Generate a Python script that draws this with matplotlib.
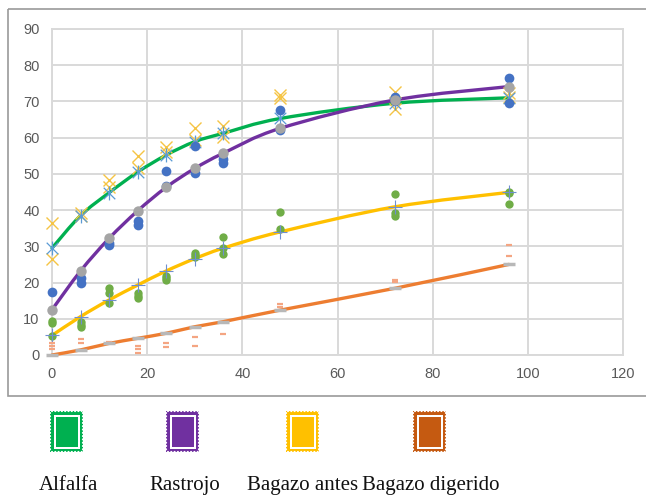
import numpy as np
import matplotlib
matplotlib.use("Agg")
import matplotlib.pyplot as plt
from matplotlib.path import Path
from matplotlib.patches import PathPatch, Rectangle, Circle

# sampling times (h)
times = [0, 6, 12, 18, 24, 30, 36, 48, 72, 96]

# fitted curves, read at each time
fit_alfalfa = [29.5, 38.5, 44.8, 50.5, 55.2, 58.9, 61.2, 65.3, 69.5, 71.0]
fit_rastrojo = [12.5, 23.2, 32.2, 39.8, 46.3, 51.5, 55.7, 62.6, 70.4, 74.1]
fit_antes = [5.4, 10.6, 15.2, 19.3, 23.2, 26.6, 29.5, 34.0, 40.9, 44.9]
fit_digerido = [0.0, 1.4, 3.2, 4.6, 6.0, 7.8, 9.2, 12.4, 18.4, 25.0]

# replicates
rep_alfalfa_t = [0, 0, 6, 6, 12, 12, 18, 18, 24, 24, 30, 30, 36, 36, 48, 48, 72, 72, 96, 96]
rep_alfalfa = [36.4, 26.5, 39.2, 38.3, 48.3, 46.5, 55.0, 51.6, 57.5, 56.1,
               62.7, 59.4, 63.3, 60.3, 71.8, 70.9, 72.7, 67.8, 72.2, 71.3]

rep_rastrojo_t = [0, 6, 6, 12, 12, 18, 18, 24, 24, 30, 30, 36, 36, 48, 48, 72, 72, 96, 96]
rep_rastrojo = [17.5, 21.2, 19.9, 30.4, 30.8, 37.0, 35.9, 50.8, 46.6, 57.7, 50.3,
                54.1, 52.9, 67.6, 62.0, 71.3, 70.0, 76.4, 69.5]

rep_antes_t = [0, 0, 0, 6, 6, 6, 12, 12, 12, 18, 18, 18, 24, 24, 24, 30, 30, 30,
               36, 36, 36, 48, 48, 72, 72, 72, 96, 96, 96]
rep_antes = [9.5, 8.9, 5.2, 9.2, 8.4, 7.8, 18.4, 17.0, 14.3, 17.0, 15.8, 16.4,
             21.9, 20.7, 21.3, 28.1, 27.0, 27.6, 32.7, 29.5, 27.9, 39.4, 34.7,
             44.4, 39.1, 38.4, 45.1, 44.6, 41.7]

rep_digerido_t = [0, 0, 0, 6, 6, 12, 18, 18, 18, 24, 24, 30, 30, 36, 48, 48, 72, 72, 96, 96]
rep_digerido = [3.4, 2.5, 1.6, 4.3, 3.4, 3.7, 2.6, 1.6, 0.6, 3.2, 2.3, 4.9, 2.6,
                5.8, 14.1, 13.3, 20.7, 20.1, 30.4, 27.4]

legend_names = ["Alfalfa", "Rastrojo", "Bagazo antes", "Bagazo digerido"]
legend_colors = ["#00b050", "#7030a0", "#ffc000", "#c55a11"]

W, H = 646, 497
fig = plt.figure(figsize=(W / 100, H / 100), dpi=100)

# overlay in pixel coordinates for the frame and the legend
ov = fig.add_axes([0, 0, 1, 1], zorder=0)
ov.set_xlim(0, W)
ov.set_ylim(H, 0)
ov.axis("off")
ov.add_patch(Rectangle((8, 9), 660, 387, fill=False, ec="#9a9a9a", lw=1.2))

ax = fig.add_axes([52 / W, 1 - 355 / H, (623 - 52) / W, (355 - 29) / H], zorder=1)
ax.patch.set_alpha(0)


def smooth_line(ax, xs, ys, color):
    # Excel-like smoothed line: Catmull-Rom segments as cubic Beziers
    xs = np.asarray(xs, float)
    ys = np.asarray(ys, float)
    pts = np.column_stack([xs, ys])
    verts = [pts[0]]
    codes = [Path.MOVETO]
    n = len(pts)
    for i in range(n - 1):
        p0 = pts[i - 1] if i > 0 else pts[i]
        p1 = pts[i]
        p2 = pts[i + 1]
        p3 = pts[i + 2] if i + 2 < n else pts[i + 1]
        c1 = p1 + (p2 - p0) / 6
        c2 = p2 - (p3 - p1) / 6
        verts += [c1, c2, p2]
        codes += [Path.CURVE4] * 3
    ax.add_patch(PathPatch(Path(verts, codes), fill=False, ec=color, lw=2.4,
                           zorder=3, capstyle="round", clip_on=False))


# star marker: x plus vertical bar
star = Path([(-1, -1), (1, 1), (-1, 1), (1, -1), (0, -1.2), (0, 1.2)],
            [Path.MOVETO, Path.LINETO, Path.MOVETO, Path.LINETO, Path.MOVETO, Path.LINETO])

smooth_line(ax, times, fit_alfalfa, "#00b050")
smooth_line(ax, times, fit_rastrojo, "#7030a0")
smooth_line(ax, times, fit_antes, "#ffc000")
smooth_line(ax, times, fit_digerido, "#ed7d31")

mk = dict(ls="none", clip_on=False)
ax.plot(rep_alfalfa_t, rep_alfalfa, marker="x", ms=8, mew=1.0,
        color="#f5c445", zorder=4, **mk)
ax.plot(times, fit_alfalfa, marker=star, ms=10, mew=0.9,
        color="#5b9bd5", zorder=4, **mk)
ax.plot(rep_rastrojo_t, rep_rastrojo, marker="o", ms=7, mew=0,
        color="#4472c4", zorder=4, **mk)
ax.plot(times, fit_rastrojo, marker="o", ms=7.5, mew=0,
        color="#a5a5a5", zorder=5, **mk)
ax.plot(rep_antes_t, rep_antes, marker="o", ms=6, mew=0,
        color="#70ad47", zorder=4, **mk)
ax.plot(times, fit_antes, marker="+", ms=10, mew=0.8,
        color="#6f8fd0", zorder=4, **mk)
ax.plot(rep_digerido_t, rep_digerido, marker="_", ms=4, mew=1.6,
        color="#f4a582", zorder=4, **mk)
ax.plot(times, fit_digerido, marker="_", ms=9, mew=2.5,
        color="#b8b8b8", zorder=4, **mk)

ax.set_xlim(0, 120)
ax.set_ylim(0, 90)
ax.set_xticks(range(0, 121, 20))
ax.set_yticks(range(0, 91, 10))
ax.grid(True, color="#d9d9d9", lw=1.4)
ax.set_axisbelow(True)
for s in ax.spines.values():
    s.set_color("#d9d9d9")
    s.set_linewidth(1.4)
ax.tick_params(length=0, pad=9, labelsize=10.5, labelcolor="#595959")
for lab in ax.get_xticklabels() + ax.get_yticklabels():
    lab.set_fontfamily("Liberation Sans")


def stamp(ov, x0, y0, w, h, color):
    ov.add_patch(Rectangle((x0, y0), w, h, fc=color, ec="none"))
    step = 3.3
    for xx in np.arange(x0 + 2, x0 + w - 1, step):
        ov.add_patch(Circle((xx, y0), 1.1, fc="white", ec="none"))
        ov.add_patch(Circle((xx, y0 + h), 1.1, fc="white", ec="none"))
    for yy in np.arange(y0 + 2, y0 + h - 1, step):
        ov.add_patch(Circle((x0, yy), 1.1, fc="white", ec="none"))
        ov.add_patch(Circle((x0 + w, yy), 1.1, fc="white", ec="none"))
    ov.add_patch(Rectangle((x0 + 3.5, y0 + 3.5), w - 7, h - 7, fc="white", ec="none"))
    ov.add_patch(Rectangle((x0 + 5.5, y0 + 5.5), w - 11, h - 11, fc=color, ec="none"))


stamp_x = [50, 166, 286, 413]
label_x = [68.5, 184.5, 303, 430.5]
for sx, lx, name, col in zip(stamp_x, label_x, legend_names, legend_colors):
    stamp(ov, sx, 411, 33, 41, col)
    ov.text(lx, 490, name, ha="center", va="baseline", fontsize=15,
            family="Liberation Serif", color="#111111")

fig.savefig("out.png", dpi=100)
